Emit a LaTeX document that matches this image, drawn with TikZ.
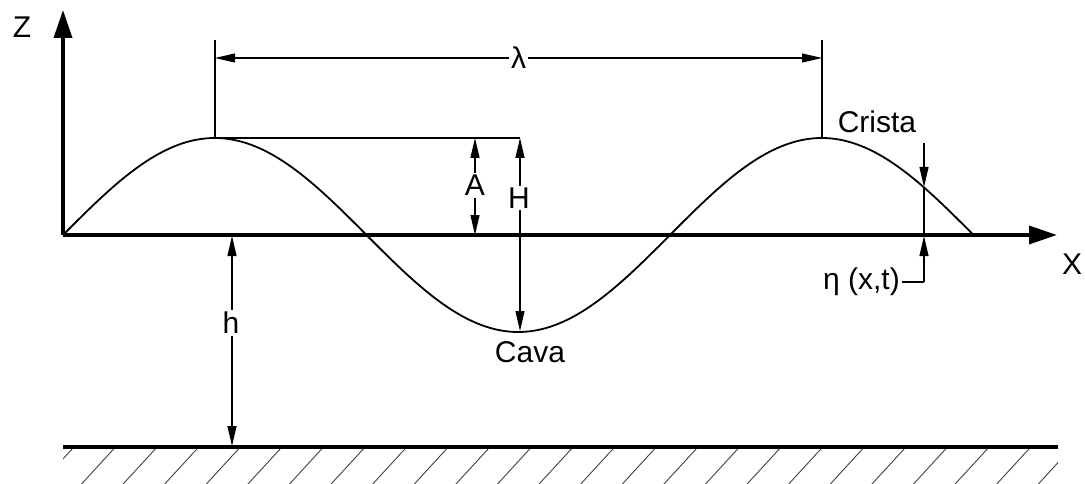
\documentclass[tikz,border=0pt]{standalone}
\usepackage{fontspec}
\setmainfont{Liberation Sans}
\usetikzlibrary{arrows.meta}
\begin{document}
\begin{tikzpicture}[x=1pt,y=-1pt,
  axis/.style={line width=3.5pt,-{Triangle[length=28pt,width=18pt]}},
  wave/.style={line width=1.8pt},
  dim/.style={line width=1.1pt},
  dimarrow/.style={dim,{Triangle[length=20pt,width=9pt]}-{Triangle[length=20pt,width=9pt]}},
  tiparrow/.style={dim,-{Triangle[length=20pt,width=9pt]}},
  lbl/.style={font=\fontsize{30}{33}\selectfont,inner sep=2pt},
  lblw/.style={lbl,fill=white},
  ground/.style={line width=3.5pt},
  hatch/.style={line width=0.9pt,black!75}]
\useasboundingbox (0,0) rectangle (1085,484);
% key points
\coordinate (O) at (63,235);
\coordinate (Ztip) at (63,10);
\coordinate (Xtip) at (1057,235);
\coordinate (C1) at (215,138);
\coordinate (C2) at (822,138);
\coordinate (L1) at (215,40);
\coordinate (L2) at (822,40);
\coordinate (L1d) at (215,58);
\coordinate (L2d) at (822,58);
\coordinate (Ctop) at (520,138);
\coordinate (Atop) at (475,138);
\coordinate (Abot) at (475,235);
\coordinate (Htop) at (520,138);
\coordinate (Hbot) at (520,331);
\coordinate (htop) at (232,236);
\coordinate (hbot) at (232,446);
\coordinate (G1) at (63,447);
\coordinate (G2) at (1058,447);
\coordinate (Etop) at (924,143);
\coordinate (Ewave) at (924,187);
\coordinate (Eaxis) at (924,236);
\coordinate (Ebot) at (924,282);
\coordinate (Elead) at (902,282);
% hatching
\begin{scope}
  \clip (63,448) rectangle (1058,484);
  \foreach \k in {0,...,25} {
    \draw[hatch] ({73+41.6*\k},448) -- ++(-33.5,36.5);
  }
\end{scope}
\draw[ground] (G1) -- (G2);
% wave
\draw[wave] plot[domain=63:975,samples=200,smooth] (\x,{235-97*sin((\x-63)/607*360)});
% axes
\draw[axis] (O) -- (Ztip);
\draw[axis] (O) -- (Xtip);
% lambda
\draw[dim] (L1) -- (C1);
\draw[dim] (L2) -- (C2);
\draw[dimarrow] (L1d) -- (L2d) node[lblw,midway] (lam) {λ};
% crest level line
\draw[dim] (C1) -- (Ctop);
% A
\draw[dimarrow] (Atop) -- (Abot) node[lblw,pos=0.49] (A) {A};
% H
\draw[dimarrow] (Htop) -- (Hbot);
\node[lblw] (H) at (519,198) {H};
% h
\draw[dimarrow] (htop) -- (hbot);
\node[lblw] (hh) at (231,323) {h};
% eta
\draw[tiparrow] (Etop) -- (Ewave);
\draw[dim] (Ewave) -- (Eaxis);
\draw[tiparrow] (Ebot) -- (Eaxis);
\draw[dim] (Ebot) -- (Elead);
\node[lbl,anchor=east] (eta) at (Elead) {η (x,t)};
% labels
\node[lbl] (crista) at (877,122) {Crista};
\node[lbl] (cava) at (530,352) {Cava};
\node[lbl] (X) at (1072,264) {X};
\node[lbl] (Z) at (22,27) {Z};
\end{tikzpicture}
\end{document}
